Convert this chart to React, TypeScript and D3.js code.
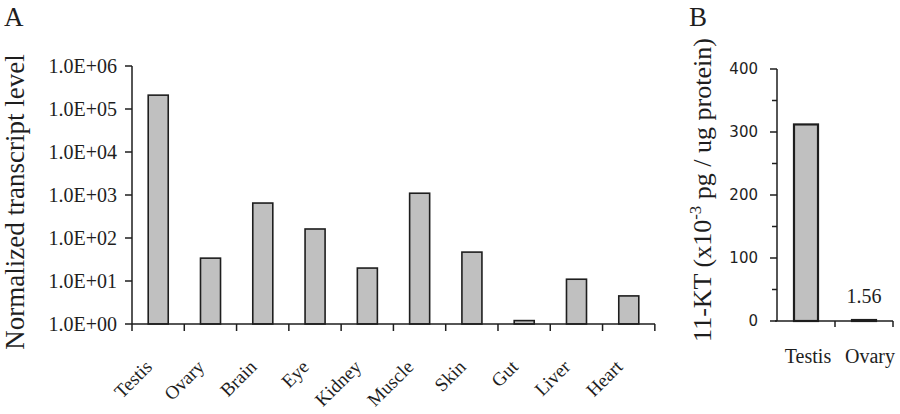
import * as d3 from 'd3';

// Panel A: transcript levels (log scale)
const tissues = ['Testis', 'Ovary', 'Brain', 'Eye', 'Kidney', 'Muscle', 'Skin', 'Gut', 'Liver', 'Heart'];
const transcriptLevels = [210000, 34, 650, 162, 20, 1100, 47, 1.2, 11, 4.5];
const logTicks = [1, 10, 100, 1000, 10000, 100000, 1000000];

// Panel B: 11-KT content
const gonads = ['Testis', 'Ovary'];
const ktValues = [312, 1.56];
const ktTicks = [0, 50, 100, 150, 200, 250, 300, 350, 400];
const ktLabels = ['', '1.56'];

const SERIF = '"Liberation Serif", "Times New Roman", serif';
const SANS = '"DejaVu Sans", Verdana, sans-serif';
const INK = '#1e1e1e';
const BAR_FILL = '#c0c0c0';

const fmtSci = (v: number) => `1.0E+${String(Math.round(Math.log10(v))).padStart(2, '0')}`;

export default function App() {
  const width = 900;
  const height = 414;

  // Panel A scales
  const xA = d3.scaleBand<string>().domain(tissues).range([132, 655]).paddingInner(0.617).paddingOuter(0.31);
  const yA = d3.scaleLog().domain([1, 1e6]).range([324, 66]);
  const stepA = xA.step();
  const bandEdgesA = d3.range(tissues.length + 1).map(i => 132 + i * stepA);

  // Panel B scales
  const xB = d3.scaleBand<string>().domain(gonads).range([777, 893]).paddingInner(0.586).paddingOuter(0.293);
  const yB = d3.scaleLinear().domain([0, 400]).range([321, 69]);
  const stepB = xB.step();
  const bandEdgesB = d3.range(gonads.length + 1).map(i => 777 + i * stepB);

  return (
    <svg width={width} height={height} style={{ position: 'absolute', left: 0, top: 0, background: '#fff' }}>
      {/* Panel letters */}
      <text x={4} y={26} fontFamily={SERIF} fontSize={27} fill={INK}>A</text>
      <text x={689} y={26} fontFamily={SERIF} fontSize={27} fill={INK}>B</text>

      {/* ---------- Panel A ---------- */}
      <text
        transform={`translate(24,202) rotate(-90)`}
        textAnchor="middle"
        fontFamily={SERIF}
        fontSize={27}
        fill={INK}
      >
        Normalized transcript level
      </text>

      {tissues.map((t, i) => (
        <rect
          key={t}
          x={xA(t)}
          y={yA(transcriptLevels[i])}
          width={xA.bandwidth()}
          height={yA(1) - yA(transcriptLevels[i])}
          fill={BAR_FILL}
          stroke={INK}
          strokeWidth={1.6}
        />
      ))}

      {/* y axis */}
      <line x1={132} x2={132} y1={yA(1e6)} y2={yA(1)} stroke={INK} strokeWidth={1.5} />
      {logTicks.map(v => (
        <g key={v}>
          <line x1={125} x2={132} y1={yA(v)} y2={yA(v)} stroke={INK} strokeWidth={1.5} />
          <text x={117} y={yA(v)} dy="0.35em" textAnchor="end" fontFamily={SERIF} fontSize={20} fill={INK}>
            {fmtSci(v)}
          </text>
        </g>
      ))}

      {/* x axis */}
      <line x1={132} x2={655} y1={yA(1)} y2={yA(1)} stroke={INK} strokeWidth={1.5} />
      {bandEdgesA.map((x, i) => (
        <line key={i} x1={x} x2={x} y1={yA(1)} y2={yA(1) + 7} stroke={INK} strokeWidth={1.5} />
      ))}
      {tissues.map(t => {
        const cx = (xA(t) ?? 0) + xA.bandwidth() / 2 - 5;
        return (
          <text
            key={t}
            transform={`translate(${cx},${yA(1) + 44}) rotate(-45)`}
            textAnchor="end"
            fontFamily={SERIF}
            fontSize={19}
            fill={INK}
          >
            {t}
          </text>
        );
      })}

      {/* ---------- Panel B ---------- */}
      <text
        transform={`translate(711,190) rotate(-90)`}
        textAnchor="middle"
        fontFamily={SERIF}
        fontSize={26}
        fill={INK}
      >
        11-KT (x10
        <tspan dy={-10} fontSize={17}>-3</tspan>
        <tspan dy={10}> pg / ug protein)</tspan>
      </text>

      {gonads.map((g, i) => (
        <rect
          key={g}
          x={xB(g)}
          y={yB(ktValues[i])}
          width={xB.bandwidth()}
          height={Math.max(yB(0) - yB(ktValues[i]), 0.5)}
          fill={BAR_FILL}
          stroke={INK}
          strokeWidth={2.2}
        />
      ))}

      {gonads.map((g, i) => (
        ktLabels[i] ? (
          <text
            key={g}
            x={(xB(g) ?? 0) + xB.bandwidth() / 2}
            y={303}
            textAnchor="middle"
            fontFamily={SERIF}
            fontSize={20}
            fill={INK}
          >
            {ktLabels[i]}
          </text>
        ) : null
      ))}

      {/* y axis */}
      <line x1={777} x2={777} y1={yB(400)} y2={yB(0)} stroke={INK} strokeWidth={1.5} />
      {ktTicks.map(v => (
        <g key={v}>
          <line x1={v % 100 === 0 ? 770 : 772} x2={777} y1={yB(v)} y2={yB(v)} stroke={INK} strokeWidth={1.5} />
          {v % 100 === 0 && (
            <text x={758} y={yB(v)} dy="0.36em" textAnchor="end" fontFamily={SANS} fontSize={15} fill={INK}>
              {v}
            </text>
          )}
        </g>
      ))}

      {/* x axis */}
      <line x1={775} x2={893} y1={yB(0)} y2={yB(0)} stroke={INK} strokeWidth={1.5} />
      {bandEdgesB.slice(1).map((x, i) => (
        <line key={i} x1={x} x2={x} y1={yB(0)} y2={yB(0) + 6} stroke={INK} strokeWidth={1.5} />
      ))}
      {gonads.map(g => (
        <text
          key={g}
          x={(xB(g) ?? 0) + xB.bandwidth() / 2 + (g === 'Ovary' ? 6 : 2)}
          y={363}
          textAnchor="middle"
          fontFamily={SERIF}
          fontSize={20}
          fill={INK}
        >
          {g}
        </text>
      ))}
    </svg>
  );
}
